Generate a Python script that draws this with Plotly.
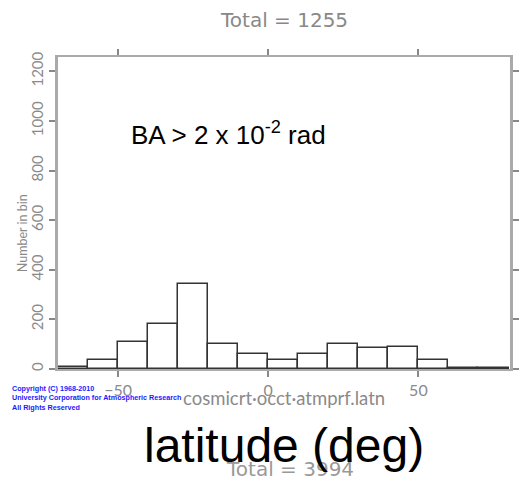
import plotly.graph_objects as go

# Latitude bins (left edges, deg) and counts
bin_left = [-70, -60, -50, -40, -30, -20, -10, 0, 10, 20, 30, 40, 50, 60, 70]
counts = [10, 38, 110, 182, 343, 102, 60, 35, 60, 102, 84, 87, 35, 4, 3]
bin_width = 10
x_ticks = [-50, 0, 50]
y_ticks = [0, 200, 400, 600, 800, 1000, 1200]

centers = [b + bin_width / 2 for b in bin_left]
GRAY = "#8a8a8a"
FONT = "Lato"

fig = go.Figure()
fig.add_trace(go.Bar(
    x=centers, y=counts, width=[bin_width] * len(counts),
    marker=dict(color="white", line=dict(color="#333333", width=1.5)),
    showlegend=False, hoverinfo="skip",
))

L, R, T, B = 58, 18, 57, 111
fig.update_layout(
    width=531, height=480,
    margin=dict(l=L, r=R, t=T, b=B),
    paper_bgcolor="white", plot_bgcolor="white",
    bargap=0,
    xaxis=dict(
        range=[-70, 80.5], tickvals=x_ticks, ticktext=["\u221250", "0", "50"],
        ticks="outside", ticklen=6, tickcolor="#888", tickwidth=1.5,
        showline=True, linecolor="#aaaaaa", linewidth=2, mirror="ticks",
        showgrid=False, zeroline=False,
        tickfont=dict(family=FONT, size=16, color=GRAY),
    ),
    yaxis=dict(
        range=[0, 1258], tickvals=y_ticks,
        ticks="outside", ticklen=6, tickcolor="#888", tickwidth=1.5,
        showline=True, linecolor="#aaaaaa", linewidth=2.5, mirror="ticks",
        showgrid=False, zeroline=False, tickangle=-90,
        tickfont=dict(family=FONT, size=15, color=GRAY),
    ),
)

ann = [
    dict(text="Total = 1255", x=286, y=20, font=dict(family="DejaVu Sans", size=20, color="#888888")),
    dict(text="Number in bin", x=22, y=233, textangle=-90,
         font=dict(family=FONT, size=12.5, color=GRAY)),
    dict(text="cosmicrt\u00b7occt\u00b7atmprf.latn", x=286, y=398,
         font=dict(family=FONT, size=18.5, color=GRAY)),
    dict(text="<b>Copyright (C) 1968-2010<br>University Corporation for Atmospheric Research<br>All Rights Reserved</b>",
         x=10, y=398, xanchor="left", align="left",
         font=dict(family="Liberation Sans", size=7.2, color="#1a1aff")),
    dict(text="Total = 3994", x=292, y=469, font=dict(family="DejaVu Sans", size=20, color="#999999")),
    dict(text="latitude (deg)", x=286, y=445,
         font=dict(family="Liberation Sans", size=48, color="black")),
    dict(text="BA > 2 x 10<sup>-2</sup> rad", x=129, y=133, xanchor="left",
         font=dict(family="Liberation Sans", size=26, color="black")),
]

pw, ph = 531 - L - R, 480 - T - B
for a in ann:
    fig.add_annotation(
        text=a["text"], x=(a["x"] - L) / pw, y=(480 - B - a["y"]) / ph,
        xref="paper", yref="paper", xanchor=a.get("xanchor", "center"), yanchor="middle",
        showarrow=False, font=a["font"], textangle=a.get("textangle", 0),
        align=a.get("align", "center"),
    )

fig.write_html("out.html", config={"displayModeBar": False},
               post_script="document.body.style.margin='0';")
